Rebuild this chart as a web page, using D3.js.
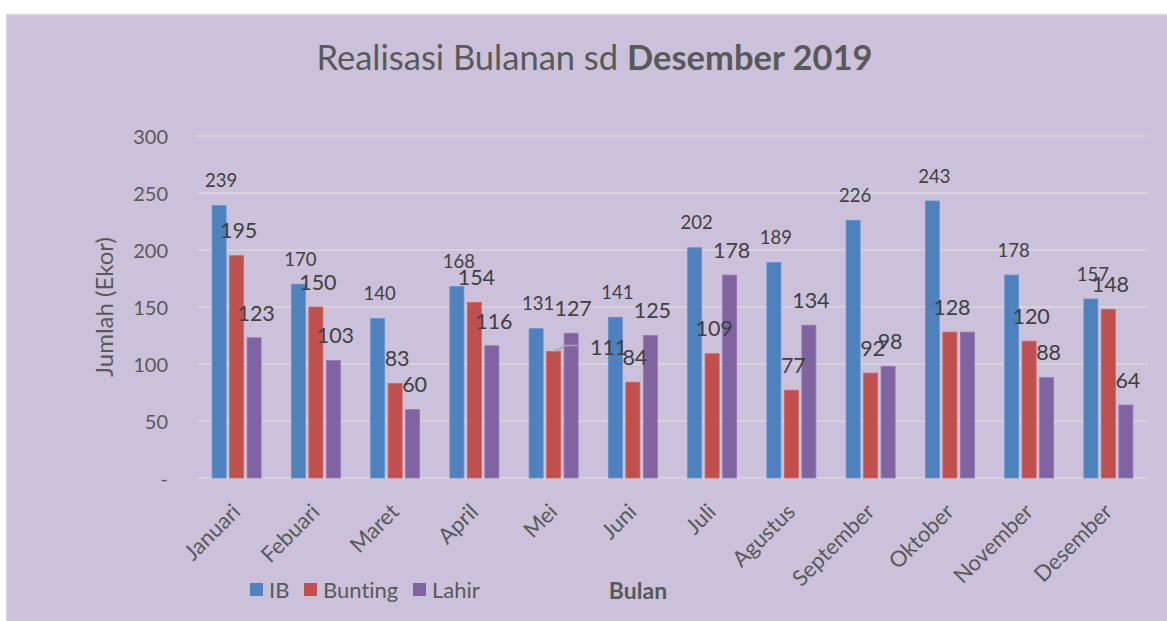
<!DOCTYPE html>
<html>
<head>
<meta charset="utf-8">
<script src="https://cdn.jsdelivr.net/npm/d3@7"></script>
<style>
  html, body { margin: 0; padding: 0; background: #ffffff; }
  svg { display: block; }
  text { font-family: Lato, "Open Sans", sans-serif; font-variant-ligatures: none; font-feature-settings: "liga" 0; }
</style>
</head>
<body>
<svg id="chart" width="1167" height="621"></svg>
<script>
// ---------- data ----------
const months = ["Januari","Febuari","Maret","April","Mei","Juni","Juli","Agustus","September","Oktober","November","Desember"];
const seriesNames = ["IB","Bunting","Lahir"];
const ibValues      = [239,170,140,168,131,141,202,189,226,243,178,157];
const buntingValues = [195,150, 83,154,111, 84,109, 77, 92,128,120,148];
const lahirValues   = [123,103, 60,116,127,125,178,134, 98,128, 88, 64];
const yTicks = [0,50,100,150,200,250,300];
const titleText = "Realisasi Bulanan sd ";
const titleBold = "Desember 2019";
const yTitle = "Jumlah (Ekor)";
const xTitle = "Bulan";
// data labels that were moved / hidden in the original
const labelMoves = [{series:"Bunting", month:"Mei", dx:53, dy:21, leader:true}];
const hiddenLabels = [{series:"Lahir", month:"Oktober"}];

// ---------- style ----------
const colors = {IB:"#4F81BD", Bunting:"#C0504D", Lahir:"#8064A2"};
const W = 1167, H = 621;
const plot = {left:197, right:1148, top:136, bottom:478};

const svg = d3.select("#chart");

// background frame
svg.append("rect").attr("x",6.5).attr("y",14.5).attr("width",W).attr("height",H)
  .attr("fill","#CCC1DA").attr("stroke","#D9D9D9").attr("stroke-width",1.5);

const seriesValues = {IB: ibValues, Bunting: buntingValues, Lahir: lahirValues};

const x0 = d3.scaleBand().domain(months).range([plot.left, plot.right]).paddingInner(0).paddingOuter(0);
const groupW = 49;
const x1 = d3.scaleBand().domain(seriesNames).range([0, groupW]).paddingInner(0.2).paddingOuter(0);
const y = d3.scaleLinear().domain([0,300]).range([plot.bottom, plot.top]);

// gridlines
svg.append("g").selectAll("line").data(yTicks).join("line")
  .attr("x1", plot.left).attr("x2", plot.right)
  .attr("y1", d => y(d)).attr("y2", d => y(d))
  .attr("stroke","#D9D9D9").attr("stroke-width",1.5);

// y axis labels
const yAxis = d3.axisLeft(y).tickValues(yTicks).tickSize(0).tickPadding(0)
  .tickFormat(d => d === 0 ? "-" : d3.format(",")(d));
const ya = svg.append("g").attr("transform", `translate(${plot.left-29},0)`).call(yAxis);
ya.select(".domain").remove();
ya.selectAll("text").attr("font-size", 20).attr("fill","#595959")
  .attr("font-family","Lato, sans-serif").attr("dy","0.36em");

// bars
const rows = [];
months.forEach((m, i) => {
  seriesNames.forEach(s => rows.push({month:m, series:s, value:seriesValues[s][i]}));
});
const groupOffset = (x0.bandwidth() - groupW) / 2;
const bx = d => x0(d.month) + groupOffset + x1(d.series);

svg.append("g").selectAll("rect").data(rows).join("rect")
  .attr("x", bx)
  .attr("y", d => y(d.value))
  .attr("width", x1.bandwidth())
  .attr("height", d => y(0) - y(d.value))
  .attr("fill", d => colors[d.series])
  .attr("stroke", d => d3.color(colors[d.series]).brighter(0.4))
  .attr("stroke-width", 0.8);

// data labels
const labelRows = rows.filter(d => !hiddenLabels.some(h => h.series === d.series && h.month === d.month));
const lg = svg.append("g");
labelRows.forEach(d => {
  const mv = labelMoves.find(m => m.series === d.series && m.month === d.month);
  const cx = bx(d) + x1.bandwidth()/2;
  const fs = d.series === "IB" ? 18.5 : 21.5;
  const lx = cx + 2 + (mv ? mv.dx : 0);
  const ly = y(d.value) - 25 + (mv ? mv.dy : 0);
  if (mv && mv.leader) {
    const top = y(d.value);
    lg.append("polyline")
      .attr("points", `${cx},${top} ${cx+12},${top-6} ${cx+24},${top-6}`)
      .attr("fill","none").attr("stroke","#A6A6A6").attr("stroke-width",1.5);
  }
  lg.append("text").attr("x", lx).attr("y", ly).attr("dy","0.36em")
    .attr("text-anchor","middle").attr("font-size", fs).attr("fill","#404040")
    .text(d.value);
});

// x axis labels (rotated)
const xg = svg.append("g");
months.forEach(m => {
  const cx = x0(m) + x0.bandwidth()/2;
  xg.append("text")
    .attr("transform", `translate(${cx-6},${502}) rotate(-45)`)
    .attr("text-anchor","end").attr("dy","0.72em")
    .attr("font-size", 22).attr("fill","#595959").text(m);
});

// title
const t = svg.append("text").attr("x", (318+871)/2).attr("y", 70)
  .attr("text-anchor","middle").attr("font-size", 34.5).attr("fill","#595959");
t.append("tspan").text(titleText);
t.append("tspan").attr("font-weight","bold").text(titleBold);

// y title
svg.append("text").attr("transform", `translate(${113},${307}) rotate(-90)`)
  .attr("text-anchor","middle").attr("font-size", 24).attr("fill","#595959").text(yTitle);

// x title
svg.append("text").attr("x", 638).attr("y", 591).attr("dy","0.36em")
  .attr("text-anchor","middle").attr("font-size", 23).attr("font-weight","bold")
  .attr("fill","#595959").text(xTitle);

// legend
const legendX = [250, 304, 413];
const leg = svg.append("g");
seriesNames.forEach((s, i) => {
  leg.append("rect").attr("x", legendX[i]).attr("y", 583).attr("width", 13).attr("height", 13)
    .attr("fill", colors[s]);
  leg.append("text").attr("x", legendX[i] + 19).attr("y", 590).attr("dy","0.36em")
    .attr("font-size", 22).attr("fill","#595959").text(s);
});
</script>
</body>
</html>
